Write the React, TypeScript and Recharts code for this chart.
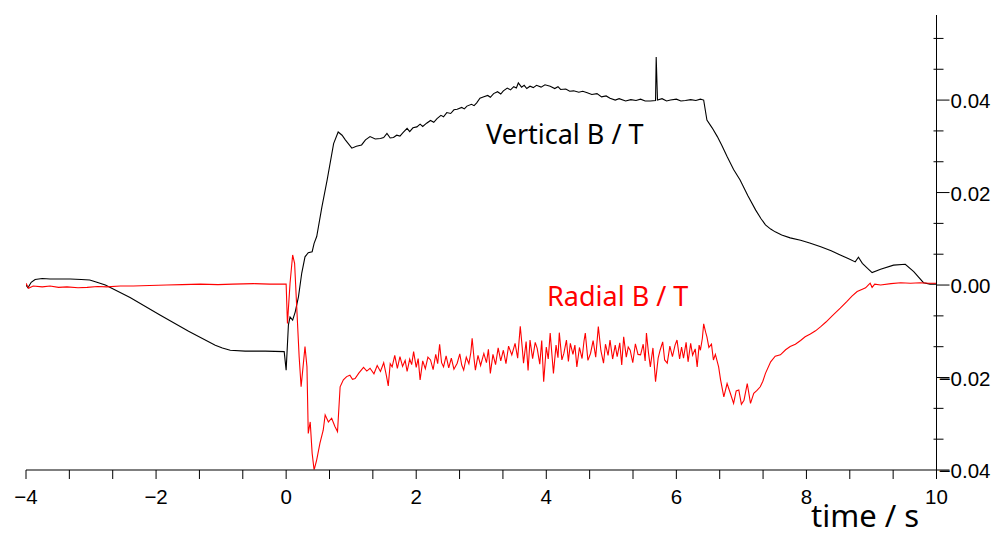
import { LineChart, Line, XAxis, YAxis } from 'recharts';

// field values in mT, time in s
const verticalB: [number, number][] = [
  [-4.0, 0.0], [-3.97, -0.6], [-3.92, 0.6], [-3.86, 1.2], [-3.75, 1.4], [-3.63, 1.3],
  [-3.45, 1.3], [-3.32, 1.3], [-3.15, 1.2], [-3.02, 1.1], [-2.91, 0.6], [-2.78, 0.0],
  [-2.4, -2.7], [-1.94, -6.5], [-1.5, -10.0], [-1.09, -13.0], [-0.98, -13.6], [-0.86, -14.1],
  [-0.63, -14.3], [-0.32, -14.3], [-0.03, -14.4], [0.0, -18.4], [0.035, -8.6], [0.06, -6.9],
  [0.1, -7.6], [0.14, -5.8], [0.19, -2.5], [0.24, 2.6], [0.29, 6.1], [0.34, 7.0], [0.4, 7.2],
  [0.43, 9.0], [0.47, 10.5], [0.55, 16.9], [0.63, 22.7], [0.73, 30.6], [0.8, 33.1], [0.86, 32.4],
  [0.91, 31.4], [1.01, 29.6], [1.08, 30.0], [1.16, 30.3], [1.22, 31.4], [1.29, 32.1], [1.37, 31.6],
  [1.45, 31.7], [1.5, 31.9], [1.55, 32.8], [1.6, 31.8], [1.65, 31.9], [1.7, 32.4], [1.75, 32.2],
  [1.8, 33.0], [1.86, 33.9], [1.9, 33.2], [1.95, 34.0], [2.01, 34.2], [2.06, 34.8], [2.1, 34.3],
  [2.16, 35.0], [2.22, 35.6], [2.27, 35.2], [2.32, 36.0], [2.38, 36.7], [2.42, 36.4], [2.47, 37.3],
  [2.53, 37.1], [2.58, 37.9], [2.63, 38.0], [2.7, 38.4], [2.74, 38.1], [2.78, 38.7], [2.85, 39.1],
  [2.89, 38.8], [2.93, 39.4], [2.98, 40.4], [3.04, 40.7], [3.1, 41.0], [3.14, 40.6], [3.19, 41.4],
  [3.25, 41.8], [3.3, 41.3], [3.34, 42.0], [3.4, 42.6], [3.45, 42.2], [3.5, 42.9], [3.54, 42.6],
  [3.57, 43.7], [3.62, 42.8], [3.66, 43.2], [3.7, 42.5], [3.75, 43.0], [3.8, 42.7], [3.85, 43.2],
  [3.92, 42.8], [3.98, 43.3], [4.06, 43.0], [4.13, 42.5], [4.18, 42.9], [4.22, 42.3], [4.3, 42.4],
  [4.36, 41.9], [4.42, 42.0], [4.5, 41.7], [4.56, 41.9], [4.63, 41.6], [4.7, 41.2], [4.78, 41.4],
  [4.85, 40.7], [4.92, 40.9], [4.98, 40.4], [5.06, 40.0], [5.12, 40.3], [5.22, 39.8], [5.3, 40.1],
  [5.38, 39.9], [5.45, 40.2], [5.52, 39.8], [5.6, 39.8], [5.68, 39.9], [5.69, 49.3], [5.71, 40.0],
  [5.78, 40.3], [5.85, 39.8], [5.91, 40.0], [6.0, 40.2], [6.07, 39.8], [6.14, 39.9], [6.22, 40.1],
  [6.3, 39.9], [6.37, 40.2], [6.42, 40.0], [6.47, 35.7], [6.55, 34.0], [6.63, 32.1], [6.7, 30.2],
  [6.78, 27.8], [6.88, 25.0], [6.98, 22.7], [7.1, 19.3], [7.22, 16.2], [7.3, 14.4], [7.37, 13.0],
  [7.45, 12.1], [7.52, 11.5], [7.62, 10.8], [7.75, 10.2], [7.91, 9.7], [8.05, 9.1], [8.22, 8.3],
  [8.38, 7.4], [8.52, 6.5], [8.65, 5.7], [8.75, 5.0], [8.8, 6.0], [8.86, 4.7], [8.94, 3.6],
  [9.01, 2.7], [9.14, 3.4], [9.34, 4.3], [9.52, 4.5], [9.65, 2.9], [9.8, 0.5], [9.9, 0.2], [10.0, 0.2],
];

const radialB: [number, number][] = [
  [-4.0, 0.4], [-3.96, -0.7], [-3.89, -0.2], [-3.75, -0.4], [-3.63, -0.2], [-3.5, -0.5],
  [-3.37, -0.4], [-3.2, -0.6], [-3.06, -0.5], [-2.9, -0.3], [-2.76, -0.4], [-2.55, -0.2],
  [-2.35, -0.2], [-2.1, -0.1], [-1.84, 0.0], [-1.6, 0.1], [-1.32, 0.2], [-1.05, 0.1],
  [-0.82, 0.2], [-0.5, 0.3], [-0.25, 0.2], [-0.04, 0.2], [0.0, 0.2], [0.02, -8.3], [0.06, 0.4],
  [0.1, 6.5], [0.13, 4.7], [0.16, -4.0], [0.2, -15.5], [0.23, -22.0], [0.26, -17.7], [0.29, -13.3],
  [0.32, -17.7], [0.34, -32.1], [0.37, -29.6], [0.4, -36.4], [0.43, -40.0], [0.47, -37.8],
  [0.52, -34.2], [0.57, -31.4], [0.6, -28.1], [0.65, -29.6], [0.7, -28.8], [0.75, -30.6],
  [0.79, -31.7], [0.83, -22.0], [0.88, -20.5], [0.93, -19.8], [0.98, -19.5], [1.02, -20.4],
  [1.06, -20.2], [1.12, -19.0], [1.19, -17.8], [1.24, -18.6], [1.29, -18.0], [1.35, -19.2],
  [1.4, -17.4], [1.45, -18.7], [1.5, -16.8], [1.54, -19.5], [1.57, -21.8], [1.6, -17.0],
  [1.63, -17.7], [1.67, -15.2], [1.71, -18.0], [1.75, -15.5], [1.79, -17.6], [1.83, -16.3],
  [1.86, -18.7], [1.9, -16.0], [1.93, -17.2], [1.96, -14.4], [2.0, -17.8], [2.03, -15.9],
  [2.06, -20.5], [2.1, -16.4], [2.14, -18.1], [2.18, -15.6], [2.22, -16.2], [2.26, -18.3],
  [2.3, -15.0], [2.33, -17.0], [2.36, -12.8], [2.39, -16.8], [2.42, -17.7], [2.46, -15.3],
  [2.5, -17.9], [2.54, -15.8], [2.58, -18.2], [2.63, -16.9], [2.67, -14.9], [2.7, -17.3],
  [2.73, -18.4], [2.77, -15.6], [2.81, -17.0], [2.84, -14.6], [2.86, -11.5], [2.89, -16.0],
  [2.91, -18.4], [2.95, -15.2], [2.99, -17.4], [3.04, -14.8], [3.08, -16.8], [3.11, -13.9],
  [3.14, -19.1], [3.18, -15.0], [3.22, -17.2], [3.26, -13.6], [3.3, -16.4], [3.34, -14.1],
  [3.38, -17.0], [3.42, -13.2], [3.47, -15.1], [3.52, -12.6], [3.56, -15.8], [3.6, -8.9],
  [3.63, -13.5], [3.65, -16.9], [3.69, -12.2], [3.72, -18.5], [3.75, -11.9], [3.79, -15.9],
  [3.83, -12.4], [3.86, -13.7], [3.9, -17.1], [3.93, -12.0], [3.96, -20.9], [4.0, -13.4],
  [4.03, -16.0], [4.06, -10.4], [4.09, -15.6], [4.11, -19.1], [4.15, -13.0], [4.18, -15.7],
  [4.2, -10.3], [4.24, -16.2], [4.27, -14.8], [4.31, -11.9], [4.34, -16.5], [4.37, -12.6],
  [4.41, -15.0], [4.44, -13.0], [4.47, -17.7], [4.51, -13.5], [4.55, -15.9], [4.58, -12.1],
  [4.6, -10.4], [4.64, -16.3], [4.68, -14.8], [4.72, -12.0], [4.76, -15.6], [4.8, -9.0],
  [4.84, -14.2], [4.88, -16.9], [4.91, -12.8], [4.95, -15.2], [4.98, -11.9], [5.02, -16.0],
  [5.06, -13.0], [5.09, -15.5], [5.13, -12.5], [5.16, -17.3], [5.19, -11.2], [5.23, -15.6],
  [5.26, -13.4], [5.29, -14.1], [5.33, -16.8], [5.37, -12.7], [5.41, -15.0], [5.45, -15.1],
  [5.49, -12.8], [5.52, -16.4], [5.54, -10.4], [5.57, -14.5], [5.6, -17.7], [5.64, -13.6],
  [5.68, -20.9], [5.72, -15.8], [5.75, -14.1], [5.79, -12.3], [5.82, -16.2], [5.86, -16.9],
  [5.9, -13.2], [5.94, -15.5], [5.98, -13.0], [6.01, -11.9], [6.05, -16.0], [6.08, -13.4],
  [6.11, -15.8], [6.15, -12.4], [6.18, -16.6], [6.22, -12.6], [6.25, -15.2], [6.29, -13.8],
  [6.32, -17.7], [6.35, -13.0], [6.37, -14.1], [6.4, -11.5], [6.42, -8.4], [6.45, -10.2],
  [6.47, -11.2], [6.5, -13.5], [6.54, -12.8], [6.57, -16.2], [6.6, -15.0], [6.65, -17.7],
  [6.68, -20.5], [6.73, -24.2], [6.78, -21.3], [6.83, -23.4], [6.88, -25.6], [6.92, -22.9],
  [6.96, -22.7], [7.0, -25.8], [7.04, -24.9], [7.09, -21.3], [7.14, -25.6], [7.19, -23.4],
  [7.24, -22.8], [7.29, -22.0], [7.33, -20.8], [7.37, -19.1], [7.45, -16.6], [7.52, -15.4],
  [7.6, -15.1], [7.68, -14.0], [7.75, -13.3], [7.83, -12.8], [7.91, -12.0], [7.98, -11.2],
  [8.06, -10.6], [8.14, -9.9], [8.22, -9.0], [8.3, -8.0], [8.4, -6.6], [8.52, -5.0],
  [8.62, -3.6], [8.7, -2.4], [8.78, -1.4], [8.86, -0.9], [8.91, -0.6], [8.95, 0.0], [8.98, 0.4],
  [9.01, -0.5], [9.05, 0.2], [9.14, 0.0], [9.3, 0.3], [9.45, 0.5], [9.6, 0.4], [9.75, 0.5],
  [9.88, 0.4], [10.0, 0.4],
];

const xMajorTicks = [-4, -2, 0, 2, 4, 6, 8, 10];
const xTickLabels = ['\u22124', '\u22122', '0', '2', '4', '6', '8', '10'];
const xMinorTicks = [-10 / 3, -8 / 3, -4 / 3, -2 / 3, 2 / 3, 4 / 3, 8 / 3, 10 / 3, 14 / 3, 16 / 3, 20 / 3, 22 / 3, 26 / 3, 28 / 3];

const yMajorTicks = [-40, -20, 0, 20, 40];
const yTickLabels = ['\u22120.04', '\u22120.02', '0.00', '0.02', '0.04'];
const yMinorTicks = [-100 / 3, -80 / 3, -40 / 3, -20 / 3, 20 / 3, 40 / 3, 80 / 3, 100 / 3, 140 / 3, 160 / 3];

const verticalData = verticalB.map(([t, b]) => ({ t, b }));
const radialData = radialB.map(([t, b]) => ({ t, b }));

const tickFont = '"Liberation Sans", Arial, sans-serif';
const labelFont = '"Noto Sans", "Open Sans", sans-serif';

function XTick(props: any) {
  const { x, y, payload } = props;
  const i = xMajorTicks.indexOf(payload.value);
  return (
    <g>
      <line x1={x} y1={y} x2={x} y2={y + 9} stroke="#000" strokeWidth={1} />
      {i >= 0 && (
        <text x={x} y={y + 34} textAnchor="middle" style={{ fontFamily: tickFont, fontSize: 20.5 }} fill="#000">
          {xTickLabels[i]}
        </text>
      )}
    </g>
  );
}

function YTick(props: any) {
  const { x, y, payload } = props;
  const i = yMajorTicks.indexOf(payload.value);
  if (i < 0) {
    return <line x1={x - 3} y1={y} x2={x + 7} y2={y} stroke="#000" strokeWidth={1} />;
  }
  return (
    <g>
      <line x1={x} y1={y} x2={x + 13} y2={y} stroke="#000" strokeWidth={1} />
      <text x={x + 54} y={y + 8} textAnchor="end" style={{ fontFamily: tickFont, fontSize: 20.5 }} fill="#000">
        {yTickLabels[i]}
      </text>
    </g>
  );
}

export default function App() {
  return (
    <div style={{ position: 'absolute', left: 0, top: 0, width: 996, height: 536, background: '#fff' }}>
      <LineChart width={996} height={536} margin={{ top: 15, right: 5.5, bottom: 36, left: 26 }}>
        <XAxis
          type="number"
          dataKey="t"
          domain={[-4, 10]}
          ticks={[...xMajorTicks, ...xMinorTicks]}
          allowDataOverflow
          height={30}
          tickSize={0}
          tickMargin={0}
          tickLine={false}
          axisLine={{ stroke: '#555', strokeWidth: 1.5 }}
          tick={<XTick />}
          interval={0}
        />
        <YAxis
          type="number"
          orientation="right"
          domain={[-40, 58.4]}
          ticks={[...yMajorTicks, ...yMinorTicks]}
          allowDataOverflow
          width={54}
          tickSize={0}
          tickMargin={0}
          tickLine={false}
          axisLine={{ stroke: '#000', strokeWidth: 1 }}
          tick={<YTick />}
          interval={0}
        />
        <Line
          data={verticalData}
          dataKey="b"
          type="linear"
          stroke="#000"
          strokeWidth={1.1}
          dot={false}
          isAnimationActive={false}
        />
        <Line
          data={radialData}
          dataKey="b"
          type="linear"
          stroke="#ff0000"
          strokeWidth={1.1}
          dot={false}
          isAnimationActive={false}
        />
      </LineChart>
      <svg width={996} height={536} style={{ position: 'absolute', left: 0, top: 0, pointerEvents: 'none' }}>
        <text x={486} y={144} fontFamily={labelFont} fontSize={27} fill="#000">Vertical B / T</text>
        <text x={547} y={306} fontFamily={labelFont} fontSize={27} fill="#ff0000">Radial B / T</text>
        <text x={811} y={527} fontFamily={labelFont} fontSize={31} fill="#000">time / s</text>
      </svg>
    </div>
  );
}
